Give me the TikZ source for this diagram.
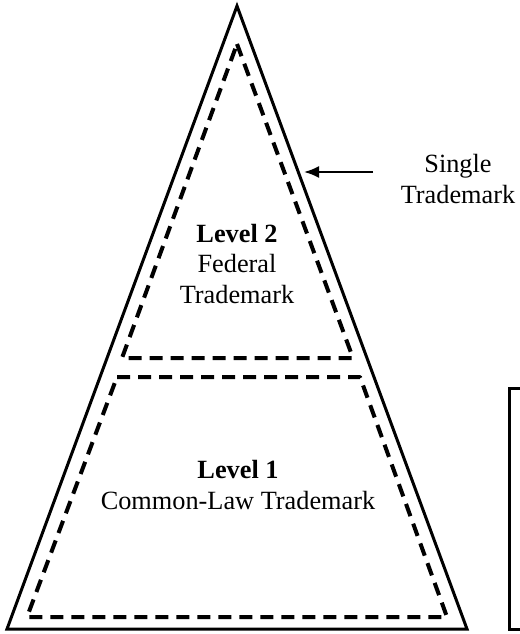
\documentclass[tikz,border=0pt]{standalone}
\usepackage{fontspec}
\setmainfont{Liberation Serif}
\usetikzlibrary{arrows.meta}
\begin{document}
\begin{tikzpicture}[x=1pt,y=-1pt,
  outline/.style={line width=3pt,line join=miter},
  dashbox/.style={line width=4pt,dash pattern=on 13pt off 8pt,line join=round},
  lbl/.style={align=center,font=\fontsize{26.3}{30.5}\selectfont,inner sep=0pt},
  pointer/.style={line width=2pt,-{Latex[length=15pt,width=12pt]}}]
\useasboundingbox (0,0) rectangle (519,634);
% outer triangle
\coordinate (A) at (237,6);
\coordinate (BL) at (7,629);
\coordinate (BR) at (467,629);
\draw[outline] (A) -- (BR) -- (BL) -- cycle;
% level 2 dashed triangle
\coordinate (t1) at (237,44);
\coordinate (t2) at (353,358);
\coordinate (t3) at (122,358);
\draw[dashbox] (t1) -- (t2) -- (t3) -- cycle;
% level 1 dashed trapezoid
\coordinate (q1) at (117,377);
\coordinate (q2) at (360,377);
\coordinate (q3) at (447,617);
\coordinate (q4) at (27,617);
\draw[dashbox] (q1) -- (q2) -- (q3) -- (q4) -- cycle;
% bracket at right
\coordinate (b1) at (521,388);
\coordinate (b2) at (509,388);
\coordinate (b3) at (509,629);
\coordinate (b4) at (521,629);
\draw[outline] (b1) -- (b2) -- (b3) -- (b4);
% arrow
\coordinate (arrT) at (373,172);
\coordinate (arrH) at (304,172);
\draw[pointer] (arrT) -- (arrH);
% labels
\node[lbl,anchor=base] (single) at (458,203) {Single\\Trademark};
\node[lbl,anchor=base] (lv2) at (237,303) {\textbf{Level 2}\\Federal\\Trademark};
\node[lbl,anchor=base] (lv1) at (238,509) {\textbf{Level 1}\\Common-Law Trademark};
\end{tikzpicture}
\end{document}
